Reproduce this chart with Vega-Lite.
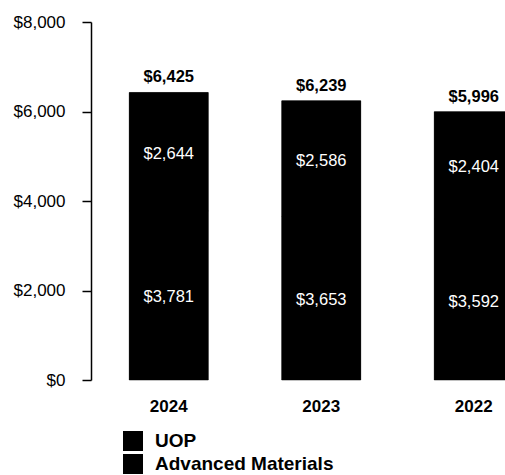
{
  "$schema": "https://vega.github.io/schema/vega-lite/v6.json",
  "autosize": {"type": "none"},
  "width": 414,
  "height": 358,
  "padding": {"left": 91, "top": 22, "right": 0, "bottom": 95},
  "background": "white",
  "config": {"view": {"stroke": null}, "font": "Liberation Sans"},
  "data": {"values": [
    {"year": "2024", "segment": "Advanced Materials", "value": 3781, "order": 1},
    {"year": "2024", "segment": "UOP", "value": 2644, "order": 2},
    {"year": "2023", "segment": "Advanced Materials", "value": 3653, "order": 1},
    {"year": "2023", "segment": "UOP", "value": 2586, "order": 2},
    {"year": "2022", "segment": "Advanced Materials", "value": 3592, "order": 1},
    {"year": "2022", "segment": "UOP", "value": 2404, "order": 2}
  ]},
  "encoding": {
    "x": {
      "field": "year", "type": "nominal", "sort": ["2024", "2023", "2022"],
      "scale": {"range": [1.5, 459], "paddingInner": 0.482, "paddingOuter": 0.241},
      "axis": {"title": null, "domain": false, "ticks": false, "labelAngle": 0, "labelFontSize": 17, "labelFontWeight": "bold", "labelColor": "black", "labelPadding": 18, "labelFont": "Liberation Sans"}
    }
  },
  "layer": [
    {
      "transform": [{"aggregate": [{"op": "sum", "field": "value", "as": "total"}], "groupby": ["year"]}],
      "mark": {"type": "bar", "color": "black"},
      "encoding": {
        "y": {"field": "total", "type": "quantitative"}
      }
    },
    {
      "mark": {"type": "bar", "stroke": "black", "strokeWidth": 0.5},
      "encoding": {
        "y": {"field": "value", "type": "quantitative", "stack": "zero",
          "scale": {"domain": [0, 8000]},
          "axis": {"title": null, "values": [0, 2000, 4000, 6000, 8000], "format": "$,.0f", "grid": false, "domainColor": "black", "domainWidth": 1.5, "tickColor": "black", "tickWidth": 1.5, "tickSize": 9, "labelPadding": 17, "labelFontSize": 17, "labelColor": "black", "labelFont": "Liberation Sans"}},
        "color": {"field": "segment", "type": "nominal",
          "scale": {"domain": ["UOP", "Advanced Materials"], "range": ["black", "black"]},
          "legend": {"title": null, "orient": "none", "legendX": 32, "legendY": 409, "symbolType": "square", "symbolSize": 400, "symbolStrokeWidth": 0, "symbolFillColor": "black", "labelFontSize": 19, "labelFontWeight": "bold", "labelColor": "black", "labelFont": "Liberation Sans", "labelLimit": 400, "rowPadding": 3, "labelOffset": 12, "symbolOffset": 0}},
        "order": {"field": "order", "type": "quantitative"}
      }
    },
    {
      "transform": [
        {"stack": "value", "groupby": ["year"], "sort": [{"field": "order"}], "as": ["y0", "y1"]},
        {"calculate": "(datum.y0 + datum.y1) / 2", "as": "mid"}
      ],
      "mark": {"type": "text", "color": "white", "fontSize": 16.5, "font": "Liberation Sans", "baseline": "middle", "dy": 2},
      "encoding": {
        "y": {"field": "mid", "type": "quantitative"},
        "text": {"field": "value", "type": "quantitative", "format": "$,.0f"}
      }
    },
    {
      "transform": [{"aggregate": [{"op": "sum", "field": "value", "as": "total"}], "groupby": ["year"]}],
      "mark": {"type": "text", "color": "black", "fontSize": 16.5, "fontWeight": "bold", "font": "Liberation Sans", "baseline": "bottom", "dy": -7},
      "encoding": {
        "y": {"field": "total", "type": "quantitative"},
        "text": {"field": "total", "type": "quantitative", "format": "$,.0f"}
      }
    }
  ]
}
